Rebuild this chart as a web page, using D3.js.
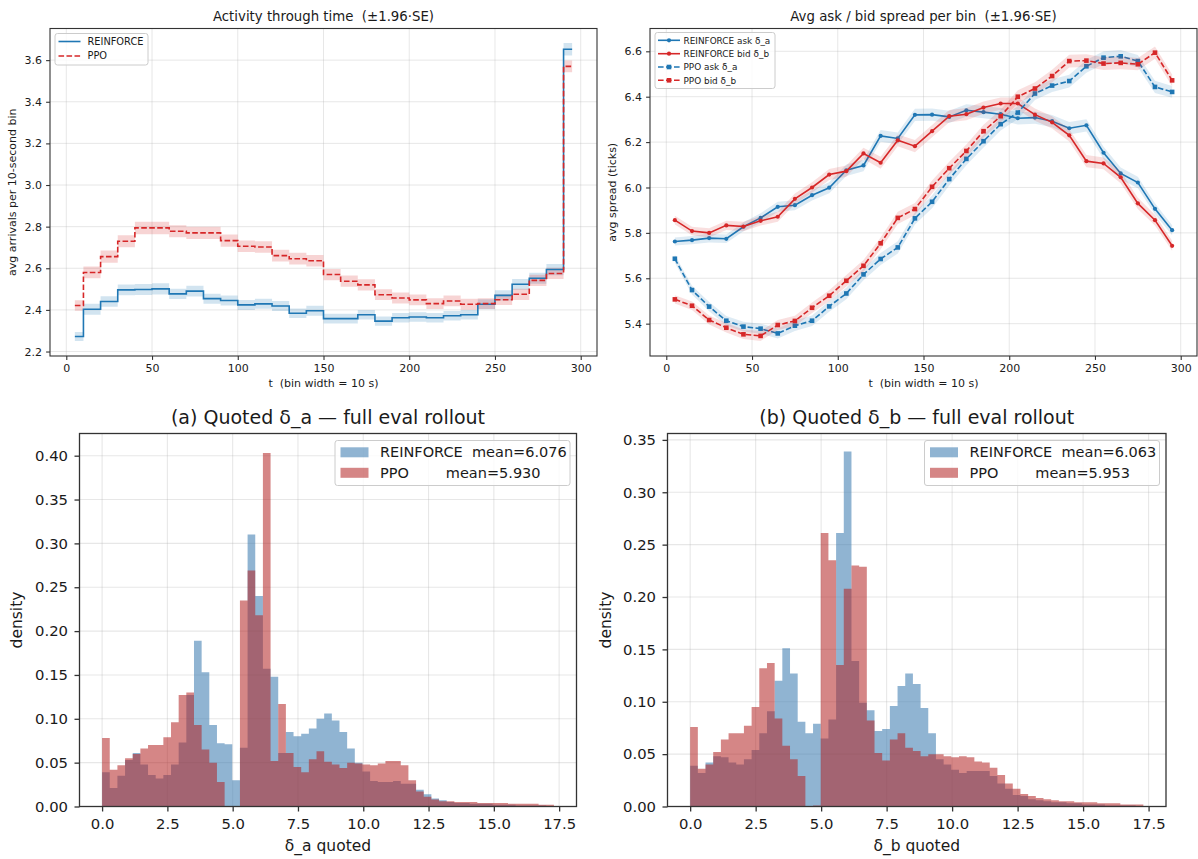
<!DOCTYPE html>
<html><head><meta charset="utf-8">
<script src="https://cdn.jsdelivr.net/npm/d3@7"></script>
<style>
body{margin:0;background:#fff}
svg text{font-family:"DejaVu Sans",sans-serif;fill:#1a1a1a;white-space:pre}
</style>
</head><body>
<svg id="c" width="1198" height="859"></svg>
<script>
// ---------------- DATA ----------------
const tBins = [5,15,25,35,45,55,65,75,85,95,105,115,125,135,145,155,165,175,185,195,205,215,225,235,245,255,265,275,285,295];

// Activity through time (avg arrivals per 10-second bin)
const actReinforce = [2.272,2.403,2.440,2.496,2.498,2.501,2.477,2.490,2.454,2.445,2.424,2.429,2.419,2.384,2.396,2.358,2.358,2.377,2.346,2.362,2.366,2.362,2.372,2.377,2.427,2.470,2.523,2.552,2.594,3.652];
const actPPO       = [2.421,2.580,2.656,2.730,2.794,2.794,2.778,2.770,2.770,2.733,2.706,2.702,2.661,2.646,2.636,2.570,2.538,2.520,2.473,2.457,2.448,2.430,2.443,2.427,2.430,2.449,2.475,2.542,2.575,3.570];
const ciActReinforce = [0.022,0.026,0.025,0.026,0.026,0.027,0.025,0.026,0.024,0.024,0.024,0.024,0.024,0.023,0.024,0.023,0.023,0.023,0.022,0.023,0.023,0.023,0.023,0.023,0.024,0.025,0.026,0.026,0.027,0.030];
const ciActPPO       = [0.025,0.028,0.029,0.029,0.030,0.030,0.029,0.029,0.029,0.029,0.028,0.028,0.028,0.028,0.028,0.027,0.027,0.027,0.026,0.026,0.026,0.026,0.026,0.026,0.026,0.026,0.027,0.027,0.027,0.028];

// Avg ask / bid spread per bin
const askReinforce = [5.762,5.768,5.777,5.774,5.827,5.866,5.915,5.922,5.966,5.999,6.076,6.097,6.227,6.216,6.320,6.321,6.311,6.340,6.332,6.323,6.305,6.308,6.292,6.261,6.274,6.153,6.062,6.022,5.906,5.812];
const bidReinforce = [5.856,5.808,5.800,5.833,5.828,5.853,5.871,5.950,6.000,6.057,6.072,6.150,6.109,6.208,6.182,6.248,6.314,6.323,6.352,6.370,6.370,6.321,6.287,6.230,6.116,6.106,6.045,5.930,5.856,5.743];
const askPPO       = [5.686,5.548,5.475,5.413,5.387,5.378,5.357,5.391,5.413,5.476,5.533,5.617,5.685,5.736,5.864,5.937,6.037,6.126,6.204,6.279,6.330,6.414,6.449,6.469,6.534,6.572,6.578,6.557,6.443,6.421];
const bidPPO       = [5.507,5.479,5.416,5.382,5.353,5.346,5.394,5.412,5.470,5.523,5.589,5.655,5.754,5.866,5.905,6.003,6.085,6.161,6.248,6.314,6.400,6.436,6.491,6.557,6.559,6.546,6.549,6.543,6.594,6.472];
const ciAskReinforce = [0.018,0.018,0.019,0.019,0.020,0.021,0.022,0.022,0.023,0.024,0.025,0.025,0.026,0.026,0.027,0.027,0.027,0.027,0.027,0.027,0.027,0.027,0.027,0.027,0.027,0.027,0.026,0.025,0.024,0.022];
const ciBidReinforce = [0.019,0.019,0.020,0.020,0.021,0.021,0.022,0.023,0.023,0.024,0.025,0.025,0.026,0.026,0.027,0.027,0.027,0.027,0.027,0.027,0.027,0.027,0.027,0.027,0.027,0.026,0.026,0.025,0.024,0.022];
const ciAskPPO       = [0.018,0.019,0.020,0.021,0.021,0.022,0.022,0.023,0.023,0.024,0.025,0.026,0.026,0.027,0.027,0.028,0.028,0.028,0.028,0.028,0.028,0.028,0.028,0.028,0.028,0.028,0.028,0.027,0.027,0.026];
const ciBidPPO       = [0.018,0.019,0.020,0.021,0.021,0.022,0.022,0.023,0.023,0.024,0.025,0.026,0.026,0.027,0.027,0.028,0.028,0.028,0.028,0.028,0.028,0.028,0.028,0.028,0.028,0.028,0.028,0.027,0.027,0.026];

// Histograms of quoted spreads: 59 bins over [0, 17.3]
const histRange = [0, 17.3];
const histBinCount = 59;
const deltaAReinforce = [0.039,0.021,0.035,0.053,0.061,0.048,0.036,0.032,0.036,0.048,0.073,0.127,0.189,0.153,0.093,0.072,0.071,0.030,0.067,0.310,0.240,0.157,0.148,0.061,0.085,0.080,0.083,0.089,0.100,0.106,0.098,0.085,0.066,0.050,0.040,0.029,0.028,0.028,0.029,0.026,0.026,0.019,0.014,0.009,0.007,0.005,0.004,0.004,0.003,0.003,0.003,0.002,0.002,0.002,0.001,0.001,0.001,0.001,0.0005];
const deltaAPPO       = [0.078,0.042,0.047,0.055,0.060,0.066,0.070,0.070,0.079,0.096,0.127,0.130,0.093,0.065,0.050,0.028,0,0,0.235,0.269,0.218,0.403,0.052,0.117,0.061,0.045,0.039,0.054,0.063,0.051,0.048,0.044,0.050,0.049,0.048,0.047,0.049,0.052,0.052,0.047,0.030,0.017,0.011,0.008,0.006,0.006,0.005,0.005,0.005,0.004,0.004,0.004,0.004,0.003,0.003,0.003,0.003,0.002,0.002];
const deltaBReinforce = [0.039,0.032,0.042,0.048,0.047,0.042,0.040,0.045,0.054,0.070,0.091,0.120,0.151,0.127,0.081,0.070,0.079,0.065,0.083,0.261,0.339,0.139,0.099,0.092,0.072,0.074,0.096,0.115,0.127,0.117,0.094,0.070,0.045,0.040,0.035,0.032,0.034,0.034,0.034,0.029,0.022,0.017,0.011,0.010,0.007,0.006,0.005,0.004,0.004,0.003,0.003,0.002,0.002,0.002,0.001,0.001,0.001,0.001,0.0005];
const deltaBPPO       = [0.076,0.036,0.040,0.052,0.064,0.070,0.070,0.077,0.095,0.132,0.137,0.084,0.058,0.045,0.029,0,0.001,0.261,0.235,0.135,0.208,0.230,0.229,0.082,0.051,0.044,0.064,0.070,0.056,0.053,0.048,0.050,0.050,0.048,0.047,0.048,0.047,0.043,0.042,0.037,0.030,0.022,0.017,0.012,0.010,0.008,0.007,0.006,0.005,0.005,0.004,0.004,0.004,0.003,0.003,0.003,0.002,0.002,0.002];
const meanLabels = {aR:"6.076", aP:"5.930", bR:"6.063", bP:"5.953"};

const tTicks = [0,50,100,150,200,250,300];
const actTicks = [2.2,2.4,2.6,2.8,3.0,3.2,3.4,3.6];
const spreadTicks = [5.4,5.6,5.8,6.0,6.2,6.4,6.6];
const histXTicks = [0,2.5,5,7.5,10,12.5,15,17.5];
const histATicks = [0,0.05,0.10,0.15,0.20,0.25,0.30,0.35,0.40];
const histBTicks = [0,0.05,0.10,0.15,0.20,0.25,0.30,0.35];

// ---------------- DRAW ----------------
const BLUE = "#1f77b4", RED = "#d62728";
const HBLUE = "steelblue", HRED = "firebrick";
const svg = d3.select("#c");

function frame(box, xs, ys, o) {
  const g = svg.append("g");
  // grid
  g.append("g").selectAll("line").data(o.xt).join("line")
    .attr("x1", d => xs(d)).attr("x2", d => xs(d)).attr("y1", box.t).attr("y2", box.b)
    .attr("stroke", "#b0b0b0").attr("stroke-opacity", 0.3).attr("stroke-width", o.gw);
  g.append("g").selectAll("line").data(o.yt).join("line")
    .attr("y1", d => ys(d)).attr("y2", d => ys(d)).attr("x1", box.l).attr("x2", box.r)
    .attr("stroke", "#b0b0b0").attr("stroke-opacity", 0.3).attr("stroke-width", o.gw);
  return g;
}
function axes(box, xs, ys, o) {
  const ax = svg.append("g").attr("transform", `translate(0,${box.b})`)
    .call(d3.axisBottom(xs).tickValues(o.xt).tickFormat(o.fx).tickSizeOuter(0).tickSize(o.tl).tickPadding(o.tp));
  const ay = svg.append("g").attr("transform", `translate(${box.l},0)`)
    .call(d3.axisLeft(ys).tickValues(o.yt).tickFormat(o.fy).tickSizeOuter(0).tickSize(o.tl).tickPadding(o.tp));
  [ax, ay].forEach(a => {
    a.select(".domain").remove();
    a.selectAll("line").attr("stroke", "#333").attr("stroke-width", o.sw);
    a.selectAll("text").attr("font-size", o.fs).attr("font-family", "DejaVu Sans").attr("fill", "#1a1a1a");
  });
  svg.append("rect").attr("x", box.l).attr("y", box.t).attr("width", box.r - box.l).attr("height", box.b - box.t)
    .attr("fill", "none").attr("stroke", "#333").attr("stroke-width", o.sw);
  svg.append("text").attr("x", (box.l + box.r) / 2).attr("y", o.titleY).attr("text-anchor", "middle")
    .attr("font-size", o.titleFs).text(o.title);
  svg.append("text").attr("x", (box.l + box.r) / 2).attr("y", o.xlabY).attr("text-anchor", "middle")
    .attr("font-size", o.labFs).text(o.xlab);
  svg.append("text").attr("transform", `translate(${o.ylabX},${(box.t + box.b) / 2}) rotate(-90)`)
    .attr("text-anchor", "middle").attr("dy", "0.35em").attr("font-size", o.labFs).text(o.ylab);
}
function legendBox(x, y, w, h) {
  svg.append("rect").attr("x", x).attr("y", y).attr("width", w).attr("height", h).attr("rx", 2.5)
    .attr("fill", "#fff").attr("fill-opacity", 0.8).attr("stroke", "#cccccc").attr("stroke-width", 1);
}

// ===== Panel 1: Activity through time =====
{
  const box = {l: 50, r: 597, t: 28.5, b: 356};
  const xs = d3.scaleLinear().domain([-9.5, 309.5]).range([box.l, box.r]);
  const ys = d3.scaleLinear().domain([2.1785, 3.752]).range([box.b, box.t]);
  frame(box, xs, ys, {xt: tTicks, yt: actTicks, gw: 1});
  const series = [
    {v: actReinforce, ci: ciActReinforce, c: BLUE, dash: null},
    {v: actPPO, ci: ciActPPO, c: RED, dash: "5.6,2.4"}
  ];
  series.forEach(s => {
    const area = d3.area().curve(d3.curveStep).x((d, i) => xs(tBins[i]))
      .y0((d, i) => ys(d - s.ci[i])).y1((d, i) => ys(d + s.ci[i]));
    svg.append("path").attr("d", area(s.v)).attr("fill", s.c).attr("fill-opacity", 0.2);
  });
  series.forEach(s => {
    const line = d3.line().curve(d3.curveStep).x((d, i) => xs(tBins[i])).y(d => ys(d));
    svg.append("path").attr("d", line(s.v)).attr("fill", "none").attr("stroke", s.c).attr("stroke-width", 1.6)
      .attr("stroke-dasharray", s.dash);
  });
  axes(box, xs, ys, {xt: tTicks, yt: actTicks, fx: d3.format("d"), fy: d3.format(".1f"), tl: 3.9, tp: 4, sw: 1.1, fs: 11,
    title: "Activity through time  (±1.96·SE)", titleY: 20.5, titleFs: 13.3,
    xlab: "t  (bin width = 10 s)", xlabY: 387, labFs: 11, ylab: "avg arrivals per 10-second bin", ylabX: 12.5});
  legendBox(55, 33.5, 93, 31.5);
  [["REINFORCE", BLUE, null, 41.5], ["PPO", RED, "5.6,2.4", 56]].forEach(([t, c, d, y]) => {
    svg.append("line").attr("x1", 58.5).attr("x2", 80.5).attr("y1", y).attr("y2", y).attr("stroke", c)
      .attr("stroke-width", 1.6).attr("stroke-dasharray", d);
    svg.append("text").attr("x", 87.5).attr("y", y + 3.4).attr("font-size", 9.8).text(t);
  });
}

// ===== Panel 2: Avg ask / bid spread =====
{
  const box = {l: 650, r: 1197, t: 28.5, b: 356};
  const xs = d3.scaleLinear().domain([-9.5, 309.5]).range([box.l, box.r]);
  const ys = d3.scaleLinear().domain([5.2575, 6.7005]).range([box.b, box.t]);
  frame(box, xs, ys, {xt: tTicks, yt: spreadTicks, gw: 1});
  const series = [
    {v: askReinforce, ci: ciAskReinforce, c: BLUE, dash: null, m: "circle", name: "REINFORCE ask δ_a"},
    {v: bidReinforce, ci: ciBidReinforce, c: RED, dash: null, m: "circle", name: "REINFORCE bid δ_b"},
    {v: askPPO, ci: ciAskPPO, c: BLUE, dash: "5.6,2.4", m: "square", name: "PPO ask δ_a"},
    {v: bidPPO, ci: ciBidPPO, c: RED, dash: "5.6,2.4", m: "square", name: "PPO bid δ_b"}
  ];
  series.forEach(s => {
    const area = d3.area().x((d, i) => xs(tBins[i])).y0((d, i) => ys(d - s.ci[i])).y1((d, i) => ys(d + s.ci[i]));
    svg.append("path").attr("d", area(s.v)).attr("fill", s.c).attr("fill-opacity", 0.15);
    const line = d3.line().x((d, i) => xs(tBins[i])).y(d => ys(d));
    svg.append("path").attr("d", line(s.v)).attr("fill", "none").attr("stroke", s.c).attr("stroke-width", 1.6)
      .attr("stroke-dasharray", s.dash);
    const g = svg.append("g");
    if (s.m === "circle") {
      g.selectAll("circle").data(s.v).join("circle").attr("cx", (d, i) => xs(tBins[i])).attr("cy", d => ys(d))
        .attr("r", 2.1).attr("fill", s.c);
    } else {
      g.selectAll("rect").data(s.v).join("rect").attr("x", (d, i) => xs(tBins[i]) - 2.3).attr("y", d => ys(d) - 2.3)
        .attr("width", 4.6).attr("height", 4.6).attr("fill", s.c);
    }
  });
  axes(box, xs, ys, {xt: tTicks, yt: spreadTicks, fx: d3.format("d"), fy: d3.format(".1f"), tl: 3.9, tp: 4, sw: 1.1, fs: 11,
    title: "Avg ask / bid spread per bin  (±1.96·SE)", titleY: 20.5, titleFs: 13.3,
    xlab: "t  (bin width = 10 s)", xlabY: 387, labFs: 11, ylab: "avg spread (ticks)", ylabX: 612.5});
  legendBox(655, 32.5, 120, 56);
  const rows = [40.3, 53.7, 67, 80.3];
  series.forEach((s, i) => {
    const y = rows[i];
    svg.append("line").attr("x1", 658).attr("x2", 680).attr("y1", y).attr("y2", y).attr("stroke", s.c)
      .attr("stroke-width", 1.6).attr("stroke-dasharray", s.dash);
    if (s.m === "circle") svg.append("circle").attr("cx", 669).attr("cy", y).attr("r", 2.1).attr("fill", s.c);
    else svg.append("rect").attr("x", 666.7).attr("y", y - 2.3).attr("width", 4.6).attr("height", 4.6).attr("fill", s.c);
    svg.append("text").attr("x", 683.5).attr("y", y + 3.2).attr("font-size", 8.9).text(s.name);
  });
}

// ===== Panels 3 & 4: histograms =====
function histPanel(box, data1, data2, yMax, yTicks, title, xlab, ylabX, meanR, meanP) {
  const edges = d3.range(histBinCount + 1).map(i => histRange[0] + (histRange[1] - histRange[0]) * i / histBinCount);
  const pad = (histRange[1] - histRange[0]) * 0.05;
  const xs = d3.scaleLinear().domain([histRange[0] - pad, histRange[1] + pad]).range([box.l, box.r]);
  const ys = d3.scaleLinear().domain([0, yMax]).range([box.b, box.t]);
  frame(box, xs, ys, {xt: histXTicks, yt: yTicks, gw: 1.1});
  [[data1, HBLUE, 0.6], [data2, HRED, 0.55]].forEach(([vals, c, op]) => {
    const pts = vals.map((v, i) => [edges[i], v]).concat([[edges[histBinCount], vals[vals.length - 1]]]);
    const area = d3.area().curve(d3.curveStepAfter).x(d => xs(d[0])).y0(ys(0)).y1(d => ys(d[1]));
    svg.append("path").attr("d", area(pts)).attr("fill", c).attr("fill-opacity", op);
  });
  axes(box, xs, ys, {xt: histXTicks, yt: yTicks, fx: d3.format(".1f"), fy: d3.format(".2f"), tl: 5, tp: 6.5, sw: 1.3, fs: 14.8,
    title: title, titleY: 424, titleFs: 19, xlab: xlab, xlabY: 851, labFs: 15.5, ylab: "density", ylabX: ylabX});
  const lx = box.r - 241.5;
  legendBox(lx, 440.5, 235, 45);
  [[HBLUE, 0.6, "REINFORCE  mean=" + meanR, 452.3], [HRED, 0.55, "PPO        mean=" + meanP, 472.8]].forEach(([c, op, t, y]) => {
    svg.append("rect").attr("x", lx + 5.5).attr("y", y - 5).attr("width", 28).attr("height", 10).attr("fill", c).attr("fill-opacity", op);
    svg.append("text").attr("x", lx + 45).attr("y", y + 5.1).attr("font-size", 14.5).text(t);
  });
}
histPanel({l: 79.5, r: 576.5, t: 433.5, b: 806.5}, deltaAReinforce, deltaAPPO, 0.4253, histATicks,
  "(a) Quoted δ_a — full eval rollout", "δ_a quoted", 17, meanLabels.aR, meanLabels.aP);
histPanel({l: 667.5, r: 1166, t: 433.5, b: 806.5}, deltaBReinforce, deltaBPPO, 0.3561, histBTicks,
  "(b) Quoted δ_b — full eval rollout", "δ_b quoted", 605.5, meanLabels.bR, meanLabels.bP);
</script>
</body></html>
